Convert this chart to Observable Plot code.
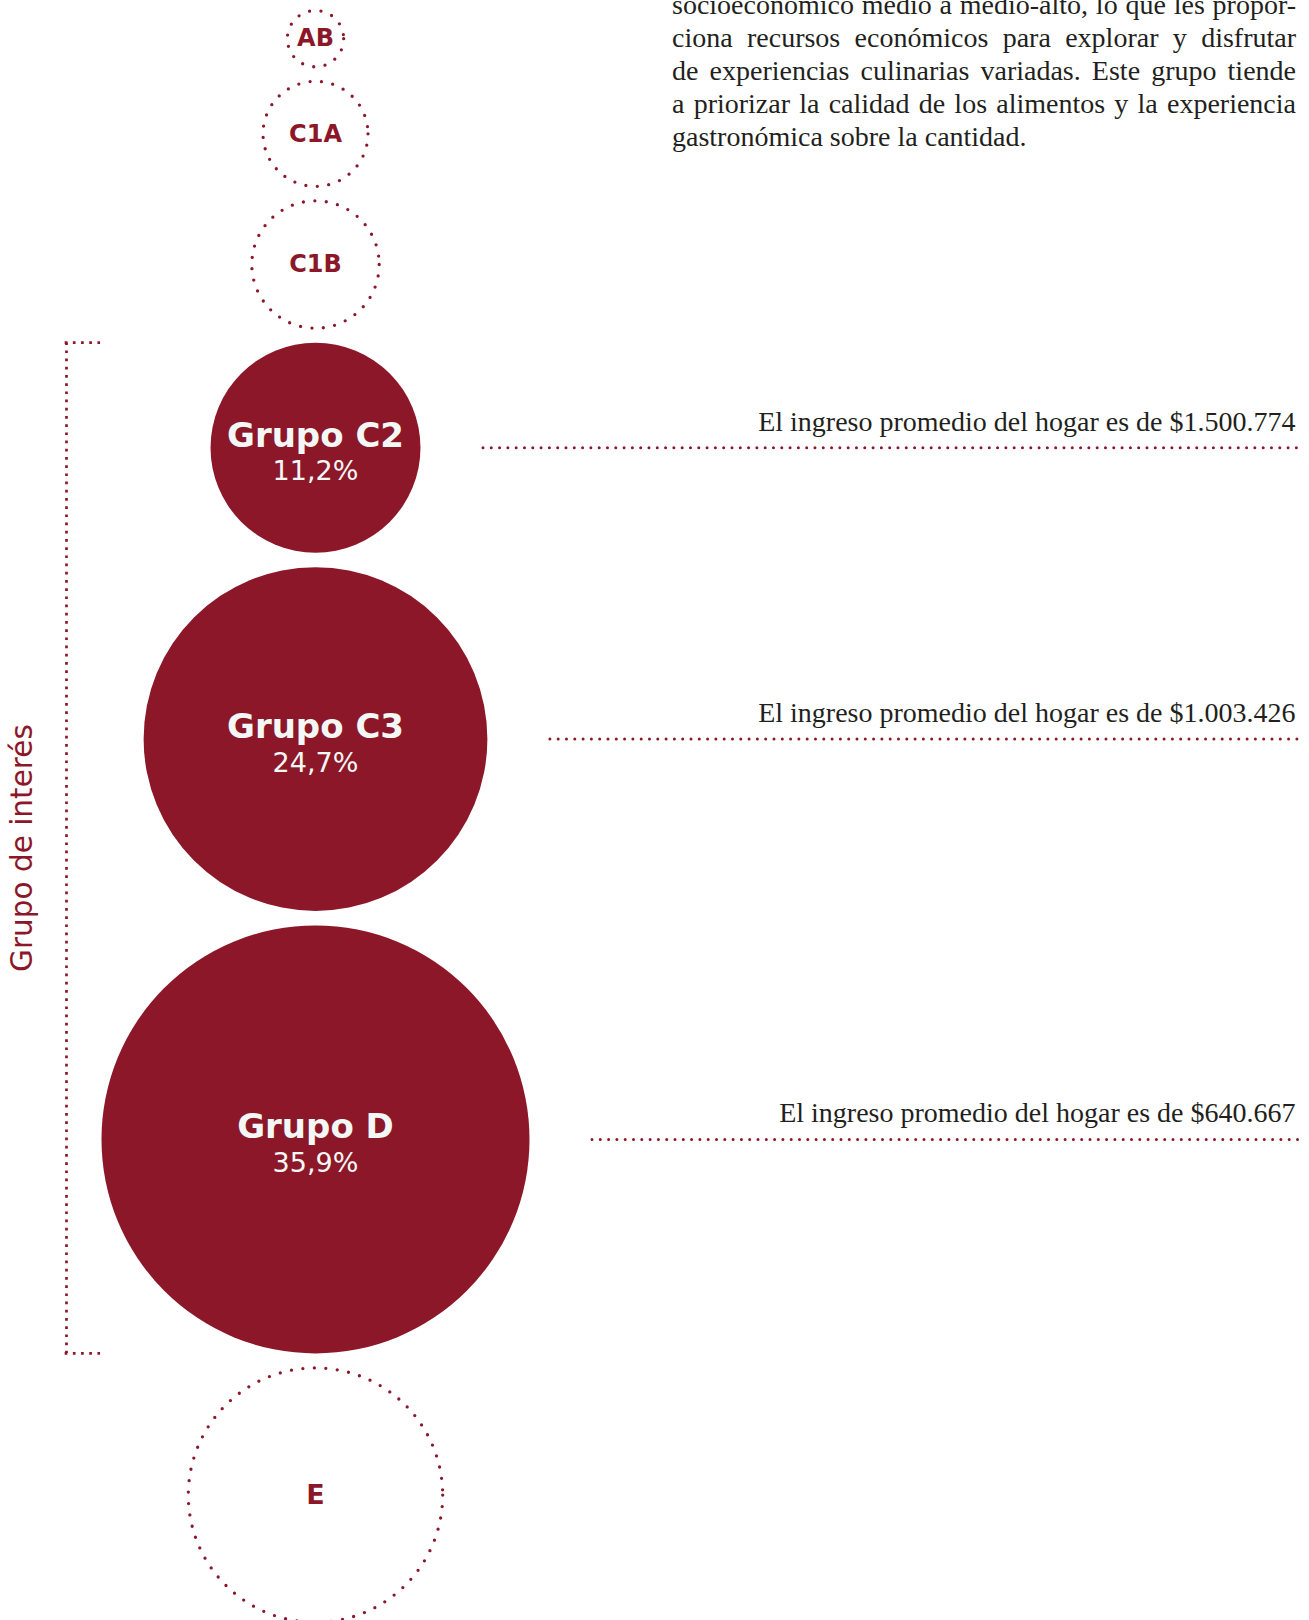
<!DOCTYPE html>
<html>
<head>
<meta charset="utf-8">
<script src="https://cdn.jsdelivr.net/npm/d3@7"></script>
<script src="https://cdn.jsdelivr.net/npm/@observablehq/plot@0.6"></script>
<style>
  html, body { margin: 0; padding: 0; background: #fff; }
  #wrap { position: relative; width: 1309px; height: 1620px; overflow: hidden; background: #fff; }
  #wrap svg { position: absolute; left: 0; top: 0; }
  #para { position: absolute; left: 672px; top: -12px; width: 624px;
          font-family: "Liberation Serif", "Times New Roman", serif; font-size: 28px;
          line-height: 33px; color: #231f20; }
  #para div { text-align: justify; text-align-last: justify; }
  #para div.last { text-align-last: left; }
</style>
</head>
<body>
<div id="wrap"><div id="para"></div></div>
<script>
// ---- data ----
const groups = ["AB", "C1A", "C1B", "C2", "C3", "D", "E"];
const circleLabels = ["AB", "C1A", "C1B", "Grupo C2", "Grupo C3", "Grupo D", "E"];
// shares (%) — AB, C1A, C1B and E are not printed; estimated from circle size
const shares = [2.2, 4.3, 5.5, 11.2, 24.7, 35.9, 15.1];
const shareLabels = ["", "", "", "11,2%", "24,7%", "35,9%", ""];
const inInterest = [false, false, false, true, true, true, false];
const incomes = ["", "", "", "$1.500.774", "$1.003.426", "$640.667", ""];
const incomePrefix = "El ingreso promedio del hogar es de ";
const bracketTitle = "Grupo de interés";
const paragraphLines = [
  "socioeconómico medio a medio-alto, lo que les propor-",
  "ciona recursos económicos para explorar y disfrutar",
  "de experiencias culinarias variadas. Este grupo tiende",
  "a priorizar la calidad de los alimentos y la experiencia",
  "gastronómica sobre la cantidad."
];

// ---- layout / style ----
const RED = "#8c1729";
const INK = "#231f20";
const W = 1309, H = 1620;
const CX = 315, TOP = 10, GAP = 14.5;
const LINE_GAP = 63, LINE_END = 1300, TEXT_END = 1295;
const BRACKET_X = 66, BRACKET_TICK = 100;

const rOpts = {type: "sqrt", domain: [0.64, 35.9], range: [0, 214]};
const rScale = Plot.scale({r: rOpts});

let cursor = TOP;
const rows = groups.map((g, i) => {
  const r = rScale.apply(shares[i]);
  const y = cursor + r;
  cursor = y + r + GAP;
  return {group: g, label: circleLabels[i], share: shares[i], pct: shareLabels[i],
          interest: inInterest[i], income: incomes[i], r, y};
});
const solid = rows.filter(d => d.interest);
const hollow = rows.filter(d => !d.interest);
const bracket = {top: d3.min(solid, d => d.y - d.r), bottom: d3.max(solid, d => d.y + d.r)};

const sans = "'DejaVu Sans', sans-serif";
const serif = "'Liberation Serif', serif";

const chart = Plot.plot({
  width: W, height: H, margin: 0,
  x: {type: "identity"}, y: {type: "identity"},
  r: rOpts,
  style: {background: "transparent"},
  marks: [
    // bracket
    Plot.ruleX([bracket], {x: BRACKET_X, y1: "top", y2: "bottom", stroke: RED,
      strokeWidth: 2.7, strokeDasharray: "2.7 5.5"}),
    Plot.ruleY([bracket.top, bracket.bottom], {y: d => d, x1: BRACKET_X - 1.35, x2: BRACKET_TICK, stroke: RED,
      strokeWidth: 2.7, strokeDasharray: "2.7 5.5"}),
    Plot.text([bracket], {x: 22, y: d => (d.top + d.bottom) / 2, text: () => bracketTitle,
      rotate: -90, fill: RED, fontSize: 29.5, fontFamily: sans}),
    // circles
    Plot.dot(solid, {x: CX, y: "y", r: "share", fill: RED, stroke: null}),
    Plot.dot(hollow, {x: CX, y: "y", r: "share", fill: "none", stroke: RED,
      strokeWidth: 3.3, strokeDasharray: "0 11.5", strokeLinecap: "round"}),
    Plot.text(solid, {x: CX, y: "y", text: "label", dy: -12, fill: "#f3f7f5",
      fontSize: 34, fontWeight: "bold", fontFamily: sans}),
    Plot.text(solid, {x: CX, y: "y", text: "pct", dy: 24, fill: "#f3f7f5",
      fontSize: 27, fontFamily: sans}),
    Plot.text(hollow, {x: CX, y: "y", text: "label", fill: RED,
      fontSize: d => d.group === "E" ? 27 : 24, fontWeight: "bold", fontFamily: sans}),
    // income leaders
    Plot.ruleY(solid, {y: "y", x1: d => CX + d.r + LINE_GAP, x2: LINE_END, stroke: RED,
      strokeWidth: 3, strokeDasharray: "0 8.3", strokeLinecap: "round"}),
    Plot.text(solid, {x: TEXT_END, y: "y", text: d => incomePrefix + d.income,
      textAnchor: "end", lineAnchor: "bottom", dy: -17, fill: INK,
      fontSize: 28, fontFamily: serif})
  ]
});

const wrap = document.getElementById("wrap");
wrap.insertBefore(chart, wrap.firstChild);
const para = document.getElementById("para");
paragraphLines.forEach((t, i) => {
  const div = document.createElement("div");
  div.textContent = t;
  if (i === paragraphLines.length - 1) div.className = "last";
  para.appendChild(div);
});
</script>
</body>
</html>
